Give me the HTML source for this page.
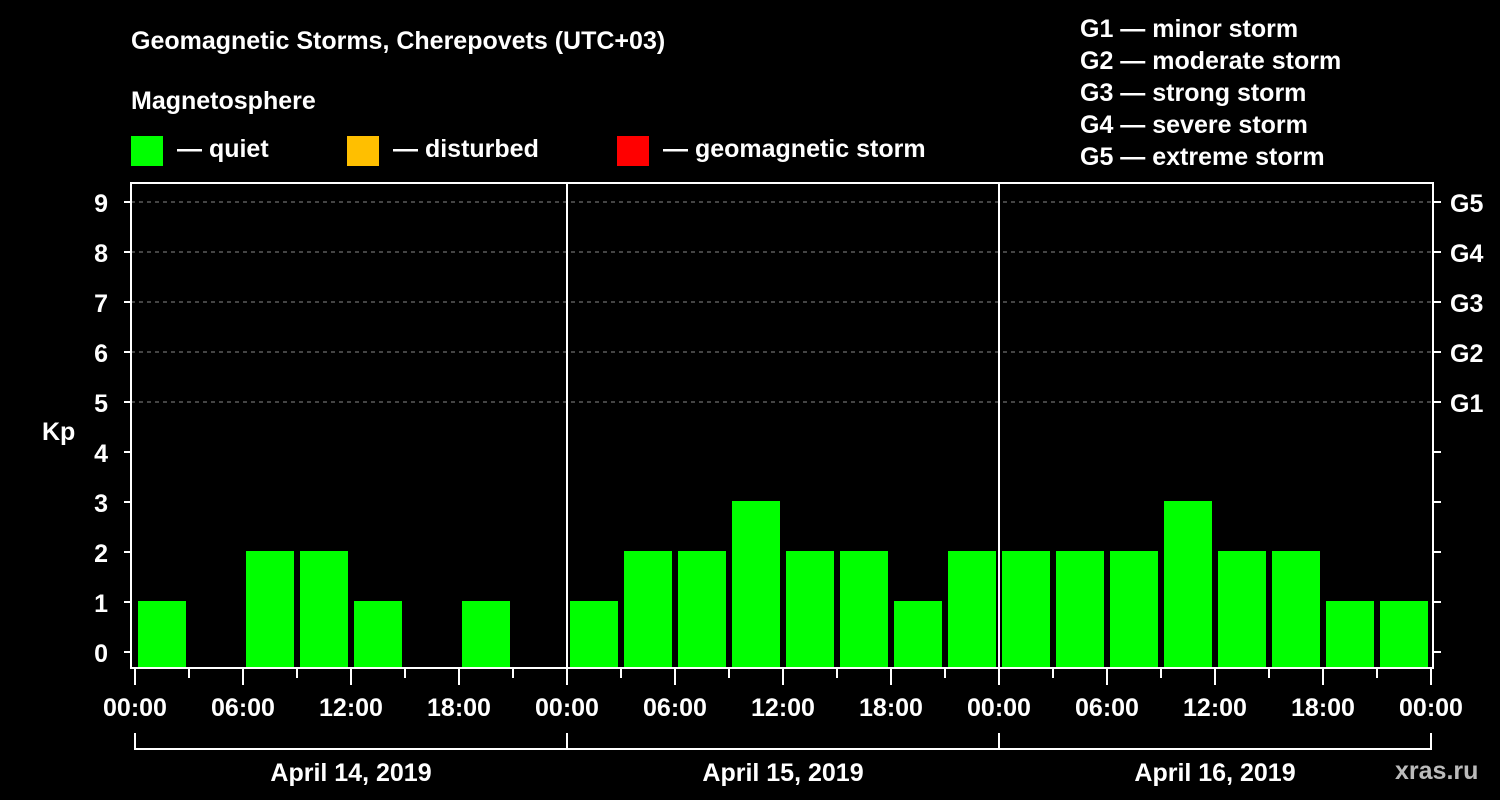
<!DOCTYPE html>
<html><head><meta charset="utf-8"><style>
body{margin:0;background:#000;}
svg{display:block;font-family:"Liberation Sans",sans-serif;font-weight:bold;}
</style></head><body>
<svg id="c" width="1500" height="800" viewBox="0 0 1500 800">
<rect width="1500" height="800" fill="#000"/>
<text x="131" y="49" fill="#fff" font-size="25">Geomagnetic Storms, Cherepovets (UTC+03)</text>
<text x="131" y="109" fill="#fff" font-size="25">Magnetosphere</text>
<g><rect x="131" y="136" width="32" height="30" fill="#00ff00"/><text x="177" y="157" fill="#fff" font-size="25">— quiet</text></g>
<g><rect x="347" y="136" width="32" height="30" fill="#ffbf00"/><text x="393" y="157" fill="#fff" font-size="25">— disturbed</text></g>
<g><rect x="617" y="136" width="32" height="30" fill="#ff0000"/><text x="663" y="157" fill="#fff" font-size="25">— geomagnetic storm</text></g>
<g fill="#fff" font-size="25">
<text x="1080" y="37">G1 — minor storm</text>
<text x="1080" y="69">G2 — moderate storm</text>
<text x="1080" y="101">G3 — strong storm</text>
<text x="1080" y="133">G4 — severe storm</text>
<text x="1080" y="165">G5 — extreme storm</text>
</g>
<text x="42" y="440" fill="#fff" font-size="25">Kp</text>
<text x="1395" y="779" fill="#bbb" font-size="25">xras.ru</text>
<g id="grid"></g><g id="bars"></g><g id="axes"></g>
</svg>
<script>
const days=["April 14, 2019","April 15, 2019","April 16, 2019"];
const kpValues=[1,0,2,2,1,0,1,0, 1,2,2,3,2,2,1,2, 2,2,2,3,2,2,1,1];
const yTicks=[0,1,2,3,4,5,6,7,8,9];
const gLabels=["G1","G2","G3","G4","G5"];
const timeLabels=["00:00","06:00","12:00","18:00"];
const NS="http://www.w3.org/2000/svg";
const x0=135,dayW=432,slotW=dayW/8,plotL=131,plotR=1433,plotT=183,plotB=668;
const xs=i=>x0+i*slotW;
const ys=v=>652-v*50;
function mk(t,a,p){const e=document.createElementNS(NS,t);for(const k in a)e.setAttribute(k,a[k]);p.appendChild(e);return e;}
const grid=document.getElementById('grid'),bars=document.getElementById('bars'),axes=document.getElementById('axes');
gLabels.forEach((g,i)=>{const v=5+i;
const l=mk('line',{x1:plotL,x2:plotR,y1:ys(v),y2:ys(v),stroke:'#888','stroke-dasharray':'4,4'},grid);


const t=mk('text',{x:1450,y:ys(v)+10,fill:'#fff','font-size':25},axes);t.textContent=g;

});
kpValues.forEach((v,i)=>{if(v<=0)return;
const r=mk('rect',{x:xs(i)+3,y:ys(v)-1,width:slotW-6,height:plotB-ys(v)+1,fill:v>=5?'#ff0000':(v>=4?'#ffbf00':'#00ff00')},bars);

});
const box=mk('rect',{x:plotL,y:plotT,width:plotR-plotL,height:plotB-plotT,fill:'none',stroke:'#fff','stroke-width':2},axes);


for(let d=1;d<days.length;d++){const l=mk('line',{x1:x0+d*dayW,x2:x0+d*dayW,y1:plotT,y2:plotB,stroke:'#fff','stroke-width':2},axes);

}
yTicks.forEach(v=>{mk('line',{x1:124,x2:plotL,y1:ys(v),y2:ys(v),stroke:'#fff','stroke-width':2},axes);
mk('line',{x1:plotR,x2:1441,y1:ys(v),y2:ys(v),stroke:'#fff','stroke-width':2},axes);
const t=mk('text',{x:108,y:ys(v)+10,fill:'#fff','font-size':25,'text-anchor':'end'},axes);t.textContent=v;

});
for(let i=0;i<=days.length*8;i++){const major=i%2==0;
mk('line',{x1:xs(i),x2:xs(i),y1:plotB,y2:major?685:678,stroke:'#fff','stroke-width':2},axes);
if(major){const t=mk('text',{x:xs(i),y:716,fill:'#fff','font-size':25,'text-anchor':'middle'},axes);t.textContent=timeLabels[(i/2)%4];

}}
days.forEach((d,k)=>{const a=x0+k*dayW,b=a+dayW;
mk('path',{d:`M${a} 733V749H${b}V733`,stroke:'#fff','stroke-width':2,fill:'none'},axes);
const t=mk('text',{x:(a+b)/2,y:781,fill:'#fff','font-size':25,'text-anchor':'middle'},axes);t.textContent=d;

});
</script>
</body></html>
